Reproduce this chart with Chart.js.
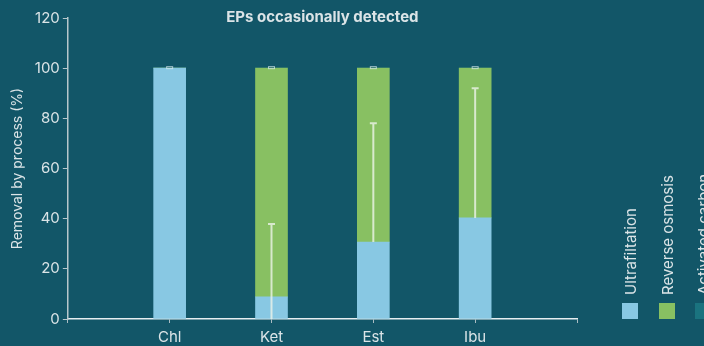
<!DOCTYPE html>
<html>
<head>
<meta charset="utf-8">
<script src="https://cdn.jsdelivr.net/npm/chart.js@4/dist/chart.umd.min.js"></script>
<style>
  html, body { margin: 0; padding: 0; background: #125668; }
  canvas { display: block; }
</style>
</head>
<body>
<canvas id="chart" width="704" height="346"></canvas>
<script>
// values
const categories = ['Chl', 'Ket', 'Est', 'Ibu'];
const ultrafiltation = [100, 8.8, 30.7, 40.3];
const reverseOsmosis = [0, 91.2, 69.3, 59.7];
const activatedCarbon = [0, 0, 0, 0];
const errLow = [null, 0, 30.7, 40.3];   // main whiskers
const errHigh = [null, 37.9, 78, 92];
const topErr = [0.4, 0.4, 0.4, 0.4];    // tiny spread on the 100% total
const yTicks = [0, 20, 40, 60, 80, 100, 120];

const seriesNames = ['Ultrafiltation', 'Reverse osmosis', 'Activated carbon'];
const seriesColors = ['#88c8e3', '#88c062', '#1a737f'];
const textColor = '#dbe4e7';
const FONT = 'Inter, "Noto Sans", sans-serif';

// empty slot on each side of the categories
const labels = ['', ...categories, ''];
const pad = arr => [null, ...arr, null];

const titlePlugin = {
  id: 'topTitle',
  afterDraw(chart) {
    const { ctx, chartArea } = chart;
    ctx.save();
    ctx.fillStyle = textColor;
    ctx.font = `bold 15px ${FONT}`;
    ctx.textAlign = 'center';
    ctx.textBaseline = 'middle';
    ctx.fillText('EPs occasionally detected', (chartArea.left + chartArea.right) / 2, 17);
    ctx.restore();
  }
};

const errorBars = {
  id: 'errorBars',
  afterDatasetsDraw(chart) {
    const { ctx } = chart;
    const x = chart.scales.x;
    const y = chart.scales.y;
    ctx.save();
    categories.forEach((c, i) => {
      const px = x.getPixelForValue(i + 1);
      // small box at the 100% total
      const total = ultrafiltation[i] + reverseOsmosis[i] + activatedCarbon[i];
      const t1 = y.getPixelForValue(total + topErr[i]);
      const t2 = y.getPixelForValue(total - topErr[i]);
      ctx.strokeStyle = 'rgba(215,232,238,0.75)';
      ctx.lineWidth = 1;
      ctx.strokeRect(px - 3, t1 - 0.5, 6, Math.max(t2 - t1, 1.5));
      if (errHigh[i] == null) return;
      const hi = y.getPixelForValue(errHigh[i]);
      const lo = y.getPixelForValue(errLow[i]);
      ctx.strokeStyle = 'rgba(236,242,232,0.8)';
      ctx.lineWidth = 2;
      ctx.beginPath();
      ctx.moveTo(px, lo);
      ctx.lineTo(px, hi);
      ctx.moveTo(px - 3.5, hi);
      ctx.lineTo(px + 3.5, hi);
      ctx.stroke();
    });
    ctx.restore();
  }
};

const sideLegend = {
  id: 'sideLegend',
  afterDraw(chart) {
    const { ctx } = chart;
    const xs = [630, 667, 703];
    ctx.save();
    seriesNames.forEach((name, i) => {
      ctx.fillStyle = seriesColors[i];
      ctx.fillRect(xs[i] - 8, 303, 16, 16);
      ctx.save();
      ctx.translate(xs[i], 295);
      ctx.rotate(-Math.PI / 2);
      ctx.fillStyle = textColor;
      ctx.font = `15px ${FONT}`;
      ctx.textAlign = 'left';
      ctx.textBaseline = 'middle';
      ctx.fillText(name, 0, 1);
      ctx.restore();
    });
    ctx.restore();
  }
};

new Chart(document.getElementById('chart'), {
  type: 'bar',
  data: {
    labels,
    datasets: [
      { label: seriesNames[0], data: pad(ultrafiltation), backgroundColor: seriesColors[0] },
      { label: seriesNames[1], data: pad(reverseOsmosis), backgroundColor: seriesColors[1] },
      { label: seriesNames[2], data: pad(activatedCarbon), backgroundColor: seriesColors[2] }
    ]
  },
  options: {
    responsive: false,
    animation: false,
    devicePixelRatio: 1,
    layout: { padding: { top: 18, right: 127, bottom: 0, left: 9 } },
    datasets: { bar: { barThickness: 32, borderWidth: 0 } },
    plugins: {
      legend: { display: false },
      title: { display: false },
      tooltip: { enabled: false }
    },
    scales: {
      x: {
        stacked: true,
        offset: false,
        afterFit: axis => { axis.height = 27; },
        grid: { offset: false, drawOnChartArea: false, drawTicks: true, tickLength: 4, color: '#a9bcc2' },
        border: { display: true, color: '#e6eef0', width: 1.5 },
        ticks: { color: textColor, font: { family: FONT, size: 15 }, padding: 5, maxRotation: 0, autoSkip: false }
      },
      y: {
        stacked: true,
        min: 0,
        max: 120,
        afterBuildTicks: axis => { axis.ticks = yTicks.map(v => ({ value: v })); },
        grid: { drawOnChartArea: false, drawTicks: true, tickLength: 5, color: '#b7c7cc' },
        border: { display: true, color: '#b7c7cc', width: 1.5 },
        ticks: { color: textColor, font: { family: FONT, size: 15 }, padding: 3 },
        title: { display: true, text: 'Removal by process (%)', color: textColor, font: { family: FONT, size: 14 }, padding: { top: 0, bottom: 6 } }
      }
    }
  },
  plugins: [titlePlugin, errorBars, sideLegend]
});
</script>
</body>
</html>
